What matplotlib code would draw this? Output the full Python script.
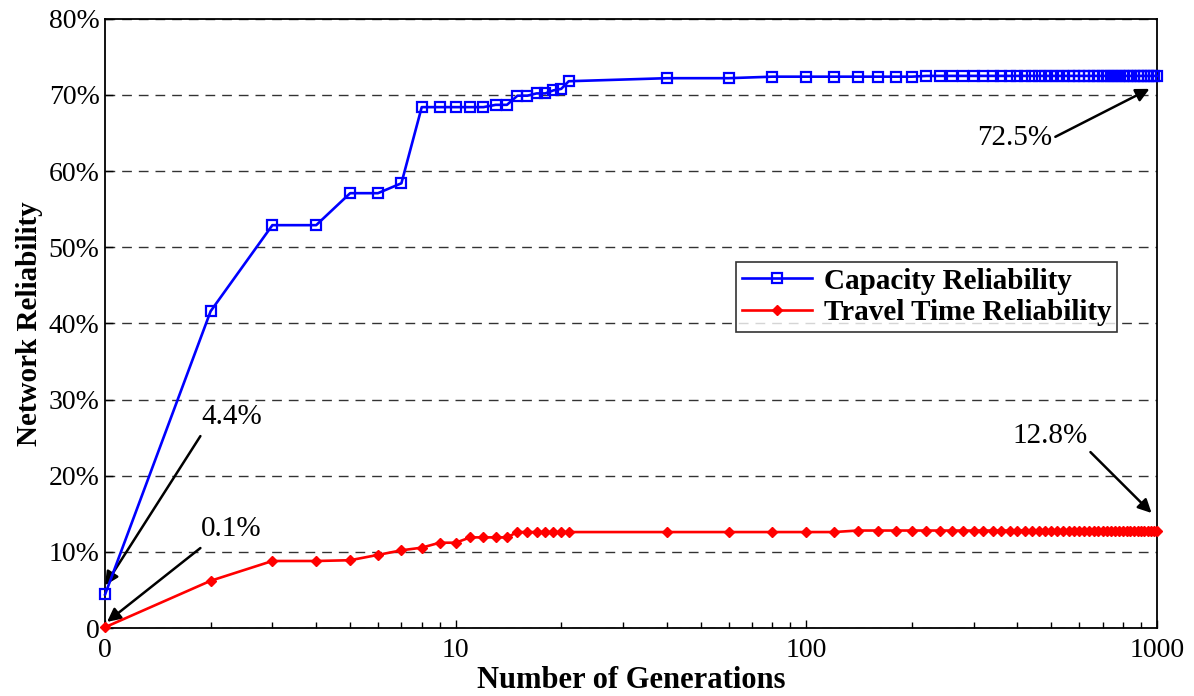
import numpy as np
import matplotlib
matplotlib.use('Agg')
import matplotlib.pyplot as plt
from matplotlib.ticker import FixedLocator, FuncFormatter, NullFormatter

# generations (axis position 1 is labelled "0")
generations = list(range(1, 22)) + list(range(40, 1001, 20))

capacity_early = [4.4, 41.6, 52.9, 52.9, 57.1, 57.1, 58.4, 68.4, 68.4, 68.4,
                  68.4, 68.4, 68.7, 68.7, 69.9, 69.9, 70.2, 70.2, 70.6, 70.8, 71.8]
capacity_late = [72.2, 72.2] + [72.4] * 7 + [72.5] * 40

travel_early = [0.1, 6.2, 8.8, 8.8, 8.9, 9.6, 10.2, 10.55, 11.2, 11.2,
                11.9, 11.9, 11.9, 11.9, 12.6, 12.6, 12.6, 12.6, 12.6, 12.6, 12.6]
travel_late = [12.6] * 5 + [12.8] * 44

capacity = capacity_early + capacity_late
travel = travel_early + travel_late

x_ticks = [1, 10, 100, 1000]
x_tick_labels = ['0', '10', '100', '1000']
y_ticks = [0, 10, 20, 30, 40, 50, 60, 70, 80]

plt.rcParams['font.family'] = ['Liberation Serif', 'DejaVu Serif']

fig = plt.figure(figsize=(11.94, 6.96), dpi=100)
ax = fig.add_axes([0.088, 0.0977, 0.881, 0.8753])

ax.plot(generations, capacity, color='#0000ff', lw=1.9, marker='s', ms=7,
        mfc='none', mec='#0000ff', mew=1.6, label='Capacity Reliability', clip_on=False, zorder=4)
ax.plot(generations, travel, color='#ff0000', lw=1.9, marker='D', ms=5.5,
        mfc='#ff0000', mec='#ff0000', label='Travel Time Reliability', clip_on=False, zorder=4)

ax.set_xscale('log')
ax.set_xlim(1, 1000)
ax.set_ylim(0, 80)
ax.xaxis.set_major_locator(FixedLocator(x_ticks))
ax.set_xticklabels(x_tick_labels)
ax.xaxis.set_minor_formatter(NullFormatter())
ax.set_yticks(y_ticks)
ax.yaxis.set_major_formatter(FuncFormatter(lambda v, p: '0' if v == 0 else f'{v:.0f}%'))

ax.tick_params(which='both', direction='in', labelsize=20, top=False, right=False)
ax.tick_params(which='major', length=6, width=1)
ax.tick_params(which='minor', length=4, width=1)
ax.tick_params(axis='x', pad=7)
ax.tick_params(axis='y', pad=4)

ax.yaxis.grid(True, linestyle=(0, (7, 5)), color='#333333', lw=1.0)
for s in ax.spines.values():
    s.set_linewidth(1.3)

ax.set_xlabel('Number of Generations', fontsize=22, fontweight='bold', labelpad=2)
ax.set_ylabel('Network Reliability', fontsize=21, fontweight='bold', labelpad=4)

leg = ax.legend(loc='upper right', bbox_to_anchor=(0.962, 0.601),
                prop={'weight': 'bold', 'size': 21}, frameon=True, fancybox=False,
                edgecolor='black', handlelength=2.4, handletextpad=0.4,
                borderpad=0.2, labelspacing=0.15, borderaxespad=0)
leg.get_frame().set_linewidth(1.2)

arrow = dict(arrowstyle='-|>', color='black', lw=1.8, mutation_scale=20, shrinkA=0, shrinkB=0)

# 4.4%
ax.annotate('', xy=(1.0, 5.6), xytext=(1.87, 25.2), arrowprops=arrow)
ax.text(1.88, 26.0, '4.4%', fontsize=21, ha='left', va='bottom')
# 0.1%
ax.annotate('', xy=(1.013, 0.8), xytext=(1.87, 10.5), arrowprops=arrow)
ax.text(1.88, 11.3, '0.1%', fontsize=21, ha='left', va='bottom')
# 72.5%
ax.annotate('', xy=(952, 70.8), xytext=(513, 64.5), arrowprops=arrow)
ax.text(392, 64.4, '72.5%', fontsize=21, ha='center', va='center')
# 12.8%
ax.annotate('', xy=(965, 15.1), xytext=(646, 23.1), arrowprops=arrow)
ax.text(497, 25.2, '12.8%', fontsize=21, ha='center', va='center')

fig.savefig('out.png', dpi=100)
